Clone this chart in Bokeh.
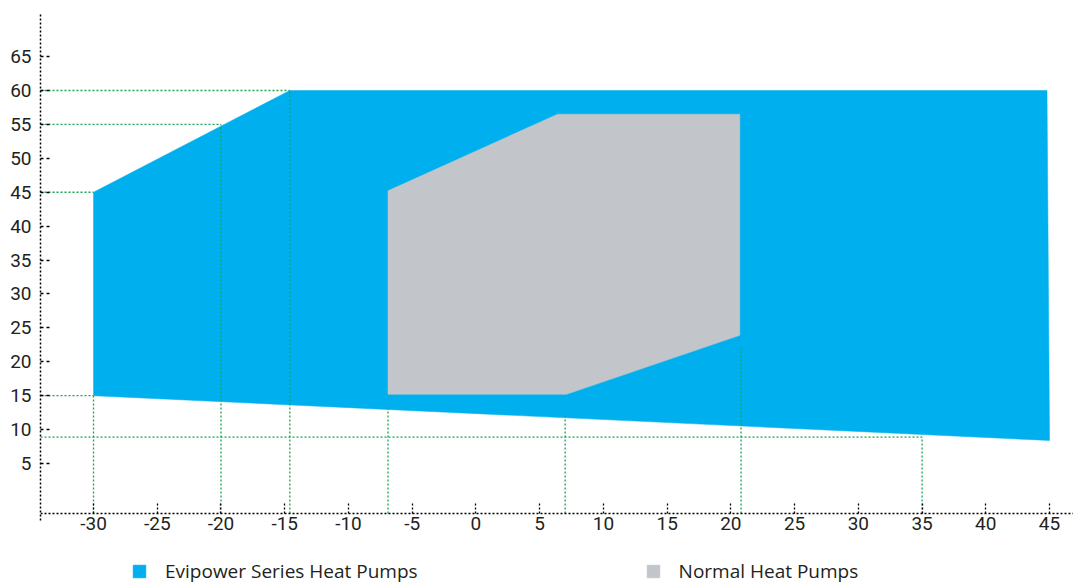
from bokeh.plotting import figure
from bokeh.models import (Range1d, FixedTicker, Legend, LegendItem, ColumnDataSource)
from bokeh.embed import file_html
from bokeh.resources import INLINE

# Operating envelopes (outdoor temperature °C vs. water outlet temperature °C)
evipower_x = [-30, -14.6, 44.8, 45, -30]
evipower_y = [45, 60, 60, 8.4, 15]
normal_x = [-6.9, 6.4, 20.7, 20.7, 7.1, -6.9]
normal_y = [45.2, 56.5, 56.5, 23.9, 15.2, 15.2]

# Reference guide lines
hguide_y = [60, 55, 45, 15, 8.9]
hguide_x_end = [-14.6, -20, -30, -30, 35]
vguide_x = [-30, -20, -14.6, -6.9, 7, 20.8, 35]
vguide_y_top = [15, 55, 60, 13.1, 12, 22.4, 8.9]

x_ticks = list(range(-30, 50, 5))
y_ticks = list(range(5, 70, 5))

x_min, x_max = -34.16, 46.88
y_min, y_max = -12.69, 71.5
x_axis_at = -2.37      # where the horizontal axis crosses
y_axis_low = -3.4      # lower end of the vertical axis line

BLUE = "#00B0EE"
GRAY = "#C2C6CA"
GREEN = "#12A84E"
TEXT = "#231F20"
FONT = "Roboto"

p = figure(width=1073, height=583, output_backend="svg", toolbar_location=None,
           x_range=Range1d(x_min, x_max), y_range=Range1d(y_min, y_max),
           min_border_left=40, min_border_right=0, min_border_top=12,
           min_border_bottom=0)
p.outline_line_color = None
p.grid.visible = False

blue = p.patch(evipower_x, evipower_y, fill_color=BLUE, line_color=BLUE, line_width=0.5)
gray = p.patch(normal_x, normal_y, fill_color=GRAY, line_color=GRAY, line_width=0.5)

hsrc = ColumnDataSource(dict(y=hguide_y, x1=hguide_x_end, x0=[x_min] * len(hguide_y)))
p.segment(x0="x0", y0="y", x1="x1", y1="y", source=hsrc,
          line_color=GREEN, line_width=1.3, line_dash="2 2")
vsrc = ColumnDataSource(dict(x=vguide_x, y1=vguide_y_top, y0=[x_axis_at] * len(vguide_x)))
p.segment(x0="x", y0="y0", x1="x", y1="y1", source=vsrc,
          line_color=GREEN, line_width=1.3, line_dash="2 2")

# Axes (plain hyphen for negative labels)
xa = p.xaxis[0]
xa.fixed_location = x_axis_at
xa.ticker = FixedTicker(ticks=x_ticks)
xa.major_label_overrides = {t: str(t) for t in x_ticks}
xa.axis_line_dash = "2 2"
xa.axis_line_width = 1.5
xa.axis_line_color = "black"
xa.major_tick_in = 10
xa.major_tick_out = 0
xa.major_tick_line_dash = "2 2"
xa.major_tick_line_width = 1.3
xa.minor_tick_line_color = None
xa.major_label_standoff = 3
xa.major_label_text_font = FONT
xa.major_label_text_font_size = "19px"
xa.major_label_text_color = TEXT

ya = p.yaxis[0]
ya.bounds = (y_axis_low, y_max)
ya.ticker = FixedTicker(ticks=y_ticks)
ya.major_label_overrides = {t: str(t) for t in y_ticks}
ya.axis_line_dash = "2 2"
ya.axis_line_width = 1.5
ya.axis_line_color = "black"
ya.major_tick_in = 12
ya.major_tick_out = 0
ya.major_tick_line_dash = "3 3"
ya.major_tick_line_width = 1.3
ya.minor_tick_line_color = None
ya.major_label_standoff = 9
ya.major_label_text_font = FONT
ya.major_label_text_font_size = "19px"
ya.major_label_text_color = TEXT

legend = Legend(items=[LegendItem(label="Evipower Series Heat Pumps", renderers=[blue]),
                       LegendItem(label="Normal Heat Pumps", renderers=[gray])],
                location=(91, -1), orientation="horizontal",
                glyph_width=16, glyph_height=16, label_standoff=18, spacing=227,
                label_height=16, padding=0, margin=0, border_line_color=None,
                background_fill_alpha=0,
                label_text_font="Open Sans", label_text_font_size="19px",
                label_text_color=TEXT)
p.add_layout(legend, "center")

open("out.html", "w").write(file_html(p, INLINE))
